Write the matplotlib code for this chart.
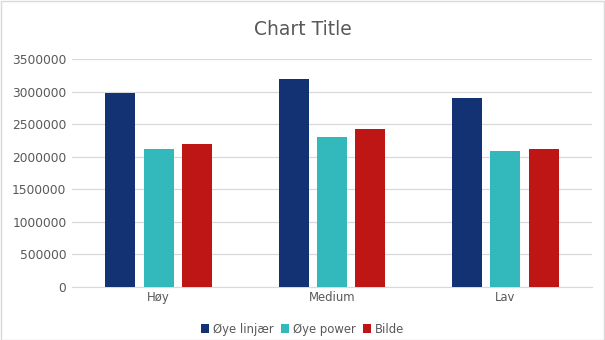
import matplotlib.pyplot as plt
import numpy as np

plt.rcParams['font.family'] = ['DejaVu Sans']

categories = ['Høy', 'Medium', 'Lav']
series_names = ['Øye linjær', 'Øye power', 'Bilde']
oye_linjaer = [2980000, 3200000, 2895000]
oye_power = [2120000, 2295000, 2080000]
bilde = [2198000, 2432000, 2125000]
colors = ['#133273', '#33B8BC', '#BD1614']

fig = plt.figure(figsize=(6.05, 3.4), dpi=100)
ax = fig.add_axes([0.119, 0.156, 0.8595, 0.6705])

x = np.arange(len(categories))
width = 0.173
offsets = [-0.222, 0, 0.222]
for vals, off, col, name in zip([oye_linjaer, oye_power, bilde], offsets, colors, series_names):
    ax.bar(x + off, vals, width=width, color=col, label=name, zorder=3)

ax.set_xlim(-0.5, 2.5)
ax.set_ylim(0, 3500000)
ax.set_yticks(np.arange(0, 3500001, 500000))
ax.set_yticklabels([str(v) for v in range(0, 3500001, 500000)])
ax.set_xticks(x)
ax.set_xticklabels(categories)
ax.grid(axis='y', color='#D9D9D9', linewidth=0.9, zorder=0)
for s in ['top', 'right', 'left']:
    ax.spines[s].set_visible(False)
ax.spines['bottom'].set_color('#D9D9D9')
ax.tick_params(axis='both', length=0, colors='#595959')
ax.tick_params(axis='y', pad=4, labelsize=8.8)
ax.tick_params(axis='x', pad=3, labelsize=8.4)

fig.text(0.5, 0.912, 'Chart Title', ha='center', va='center', fontsize=13.5, color='#595959')
fig.legend(loc='center', bbox_to_anchor=(0.5, 0.032), ncol=3, frameon=False,
           fontsize=8.4, labelcolor='#595959', handlelength=0.7, handleheight=0.7,
           handletextpad=0.35, columnspacing=0.6)

fig.patches.append(plt.Rectangle((0.001, 0.001), 0.997, 0.997, transform=fig.transFigure,
                                 fill=False, edgecolor='#D9D9D9', linewidth=1))

fig.savefig('out.png', dpi=100)
